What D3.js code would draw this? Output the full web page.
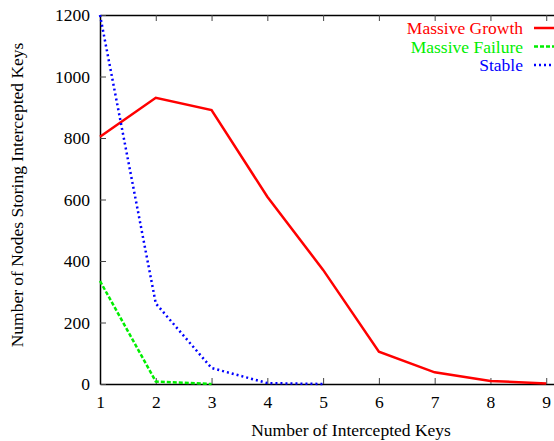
<!DOCTYPE html>
<html>
<head>
<meta charset="utf-8">
<script src="https://cdn.jsdelivr.net/npm/d3@7"></script>
<style>
  body { margin: 0; background: #fff; }
  text { font-family: "Liberation Serif", "DejaVu Serif", serif; }
</style>
</head>
<body>
<div id="chart"></div>
<script>
// data
var keys = [1, 2, 3, 4, 5, 6, 7, 8, 9];
var growth = [804, 931, 891, 609, 371, 105, 38, 10, 2];
var failureKeys = [1, 2, 3];
var failure = [335, 8, 0];
var stableKeys = [1, 2, 3, 4, 5];
var stable = [1200, 262, 52, 3, 0];
var yTicks = [0, 200, 400, 600, 800, 1000, 1200];

var svgWidth = 554;
var svgHeight = 441;
var fontSize = "17.5px";

var svg = d3.select("#chart")
  .append("svg")
  .attr("width", svgWidth)
  .attr("height", svgHeight);

// plot frame runs past the right edge of the window
var x = d3.scaleLinear().domain([1, 10]).range([100, 602]);
var y = d3.scaleLinear().domain([0, 1200]).range([384, 15]);

var frame = svg.append("g");

// bottom axis with inward ticks
var bottomAxis = d3.axisBottom(x).tickValues(keys).tickSizeInner(-6).tickSizeOuter(0).tickPadding(12);
var gx = frame.append("g")
  .attr("transform", "translate(0,384)")
  .call(bottomAxis);
gx.selectAll("text").attr("font-size", fontSize).attr("fill", "#000");

var topAxis = d3.axisTop(x).tickValues(keys).tickSizeInner(-6).tickSizeOuter(0).tickFormat("");
frame.append("g")
  .attr("transform", "translate(0,15)")
  .call(topAxis);

var leftAxis = d3.axisLeft(y).tickValues(yTicks).tickFormat(d3.format("d"))
  .tickSizeInner(-6).tickSizeOuter(0).tickPadding(10);
var gy = frame.append("g")
  .attr("transform", "translate(100,0)")
  .call(leftAxis);
gy.selectAll("text").attr("font-size", fontSize).attr("fill", "#000");

frame.selectAll(".domain").attr("stroke", "#000").attr("stroke-width", 1.5);
frame.selectAll(".tick line").attr("stroke", "#444").attr("stroke-width", 1);

// series
var line = d3.line()
  .x(d => x(d[0]))
  .y(d => y(d[1]));

var series = [
  { name: "Massive Growth", keys: keys, vals: growth, color: "#ff0000", dash: null },
  { name: "Massive Failure", keys: failureKeys, vals: failure, color: "#00ee00", dash: "4,2" },
  { name: "Stable", keys: stableKeys, vals: stable, color: "#0000ff", dash: "2,3" }
];

series.forEach(function(s) {
  svg.append("path")
    .datum(s.keys.map((k, i) => [k, s.vals[i]]))
    .attr("d", line)
    .attr("fill", "none")
    .attr("stroke", s.color)
    .attr("stroke-width", 2.5)
    .attr("stroke-dasharray", s.dash);
});

// legend
var legend = svg.append("g");
series.forEach(function(s, i) {
  var ly = 28 + i * 18.5;
  legend.append("text")
    .attr("x", 523)
    .attr("y", ly)
    .attr("dy", "0.35em")
    .attr("text-anchor", "end")
    .attr("font-size", fontSize)
    .attr("fill", s.color)
    .text(s.name);
  legend.append("line")
    .attr("x1", 534)
    .attr("x2", 580)
    .attr("y1", ly)
    .attr("y2", ly)
    .attr("stroke", s.color)
    .attr("stroke-width", 2.5)
    .attr("stroke-dasharray", s.dash);
});

// axis labels
svg.append("text")
  .attr("transform", "translate(23,195) rotate(-90)")
  .attr("text-anchor", "middle")
  .attr("font-size", fontSize)
  .text("Number of Nodes Storing Intercepted Keys");

svg.append("text")
  .attr("x", 351)
  .attr("y", 436)
  .attr("text-anchor", "middle")
  .attr("font-size", fontSize)
  .text("Number of Intercepted Keys");
</script>
</body>
</html>
